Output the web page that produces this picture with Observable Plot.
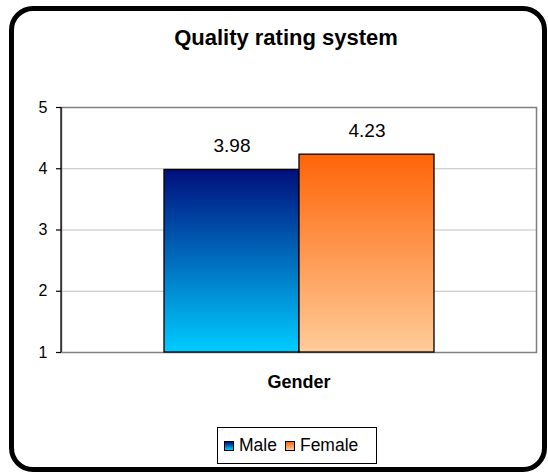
<!DOCTYPE html>
<html>
<head>
<meta charset="utf-8">
<script src="https://cdn.jsdelivr.net/npm/d3@7"></script>
<script src="https://cdn.jsdelivr.net/npm/@observablehq/plot@0.6"></script>
<style>
  html, body { margin: 0; padding: 0; background: #fff; }
  #wrap { position: relative; width: 548px; height: 474px; font-family: "Liberation Sans", Arial, sans-serif; overflow: hidden; }
  #border { position: absolute; left: 9px; top: 6px; width: 538px; height: 466px; box-sizing: border-box; border: 5px solid #000; border-radius: 24px; }
  #title { position: absolute; left: 0; width: 572px; top: 25px; text-align: center; font-weight: bold; font-size: 22px; color: #000; }
  #chart { position: absolute; left: 0; top: 0; }
  #legend { position: absolute; left: 217px; top: 427px; width: 160px; height: 37px; box-sizing: border-box; border: 1px solid #000; display: flex; align-items: center; justify-content: flex-start; padding-left: 6px; gap: 8px; font-size: 17.5px; color: #000; }
  .item { display: flex; align-items: center; gap: 5px; }
  .sw { width: 10px; height: 10px; border: 1px solid #000; box-sizing: border-box; }
</style>
</head>
<body>
<div id="wrap">
  <div id="border"></div>
  <div id="chart"></div>
  <div id="title"></div>
  <div id="legend"></div>
</div>
<script>
const title = "Quality rating system";
const genders = ["Male", "Female"];
const ratings = [3.98, 4.23];
const yTicks = [1, 2, 3, 4, 5];
const xLabel = "Gender";
const gradTop = ["#000f7c", "#ff6408"];
const gradBottom = ["#00ccff", "#ffcc99"];
const gradIds = ["gradMale", "gradFemale"];

const data = genders.map((g, i) => ({gender: g, value: ratings[i]}));

function defsMark() {
  const g = d3.create("svg:g");
  const defs = g.append("defs");
  gradIds.forEach((id, i) => {
    const lg = defs.append("linearGradient").attr("id", id)
      .attr("x1", 0).attr("y1", 0).attr("x2", 0).attr("y2", 1);
    lg.append("stop").attr("offset", "0%").attr("stop-color", gradTop[i]);
    lg.append("stop").attr("offset", "100%").attr("stop-color", gradBottom[i]);
  });
  return g.node();
}

function leftLine(index, scales, values, dimensions) {
  const {marginLeft, marginTop, height, marginBottom} = dimensions;
  return d3.create("svg:line")
    .attr("x1", marginLeft).attr("x2", marginLeft)
    .attr("y1", marginTop).attr("y2", height - marginBottom)
    .attr("stroke", "#000").attr("stroke-width", 1.2).node();
}

const plot = Plot.plot({
  width: 548,
  height: 474,
  marginLeft: 61,
  marginRight: 12,
  marginTop: 107,
  marginBottom: 122,
  style: {fontFamily: "'Liberation Sans', Arial, sans-serif", fontSize: "16px", background: "transparent", color: "#000"},
  x: {domain: genders, paddingInner: 0, paddingOuter: 0.753, axis: null},
  y: {domain: [1, 5], axis: null},
  color: {domain: genders, range: gradIds.map(id => `url(#${id})`)},
  marks: [
    defsMark,
    Plot.gridY(yTicks.slice(1, -1), {stroke: "#c0c0c0", strokeOpacity: 1, strokeWidth: 1}),
    Plot.frame({stroke: "#808080", strokeWidth: 1.5}),
    leftLine,
    Plot.axisY({ticks: yTicks, tickFormat: d => String(d), label: null, tickSize: 5, tickPadding: 9, fontSize: 16, stroke: "#000", strokeWidth: 1.2}),
    Plot.barY(data, {x: "gender", y1: 1, y2: "value", fill: "gender", stroke: "#000", strokeWidth: 1.3}),
    Plot.text(data, {x: "gender", y: "value", text: d => d.value.toFixed(2), dy: -24, fontSize: 19, fill: "#000"}),
    Plot.text([xLabel], {frameAnchor: "bottom", text: d => d, dy: 35, fontSize: 18, fontWeight: "bold", fill: "#000", letterSpacing: "1.3px"})
  ]
});
document.getElementById("chart").appendChild(plot);
document.getElementById("title").textContent = title;

const legend = document.getElementById("legend");
genders.forEach((g, i) => {
  const item = document.createElement("div");
  item.className = "item";
  const sw = document.createElement("div");
  sw.className = "sw";
  sw.style.background = `linear-gradient(${gradTop[i]}, ${gradBottom[i]})`;
  const lab = document.createElement("span");
  lab.textContent = g;
  item.appendChild(sw);
  item.appendChild(lab);
  legend.appendChild(item);
});
</script>
</body>
</html>
